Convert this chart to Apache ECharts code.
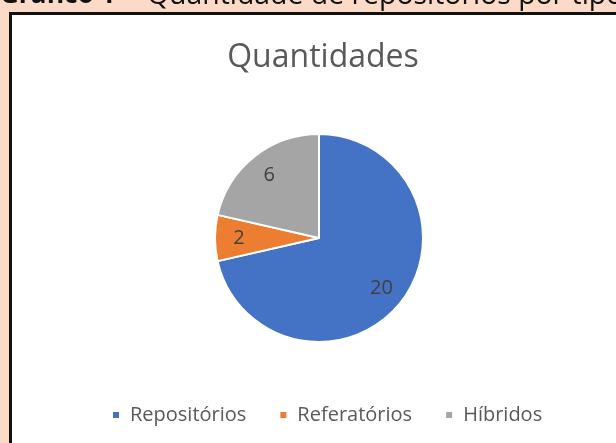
<!DOCTYPE html>
<html>
<head>
<meta charset="utf-8">
<script src="https://cdn.jsdelivr.net/npm/echarts@6/dist/echarts.min.js"></script>
<style>
html,body{margin:0;padding:0;background:#FBDBC7;}
#c{width:616px;height:443px;}
</style>
</head>
<body>
<div id="c"></div>
<script>
const categories = ['Repositórios', 'Referatórios', 'Híbridos'];
const values = [20, 2, 6];
const colors = ['#4472C4', '#ED7D31', '#A5A5A5'];
const chartTitle = 'Quantidades';
const headerBold = 'Gráfico 1';
const headerRest = 'Quantidade de repositórios por tipo';

const pieData = categories.map((n, i) => ({ name: n, value: values[i] }));

const chart = echarts.init(document.getElementById('c'), null, { renderer: 'canvas' });
chart.setOption({
  backgroundColor: '#FBDBC7',
  animation: false,
  color: colors,
  graphic: [
    { type: 'rect', z: -10, shape: { x: 10.5, y: 13.5, width: 700, height: 500 },
      style: { fill: '#ffffff', stroke: '#111111', lineWidth: 3 } },
    { type: 'text', left: 0, top: -17, z: 10,
      style: { text: headerBold, font: 'bold 26px "Open Sans"', fill: '#111111' } },
    { type: 'text', left: 126, top: -17, z: 10,
      style: { text: '–', font: '27px "Open Sans"', fill: '#111111' } },
    { type: 'text', left: 147, top: -18, z: 10,
      style: { text: headerRest, font: '28.4px "Open Sans"', fill: '#111111' } }
  ],
  title: {
    text: chartTitle,
    left: 318, top: 37,
    textAlign: 'center',
    textStyle: { fontFamily: 'Open Sans', fontSize: 32, fontWeight: 'normal', color: '#595959' }
  },
  legend: {
    data: categories,
    bottom: 13,
    left: 106,
    icon: 'rect',
    itemWidth: 8, itemHeight: 8,
    itemGap: 32,
    textStyle: { fontFamily: 'Open Sans', fontSize: 20, color: '#595959', padding: [0, 0, 0, 5] }
  },
  series: [
    {
      type: 'pie',
      center: [319, 238],
      radius: [0, 104],
      startAngle: 90,
      clockwise: true,
      data: pieData,
      label: { show: false },
      labelLine: { show: false },
      itemStyle: { borderColor: '#ffffff', borderWidth: 2 },
      silent: true
    },
    {
      type: 'pie',
      center: [319, 238],
      radius: [50, 104],
      startAngle: 90,
      clockwise: true,
      data: pieData,
      itemStyle: { color: 'rgba(0,0,0,0)', borderWidth: 0 },
      label: { show: true, position: 'inside', formatter: '{c}',
        fontFamily: 'Open Sans', fontSize: 20, color: '#404040' },
      labelLine: { show: false },
      silent: true
    }
  ]
});
</script>
</body>
</html>
